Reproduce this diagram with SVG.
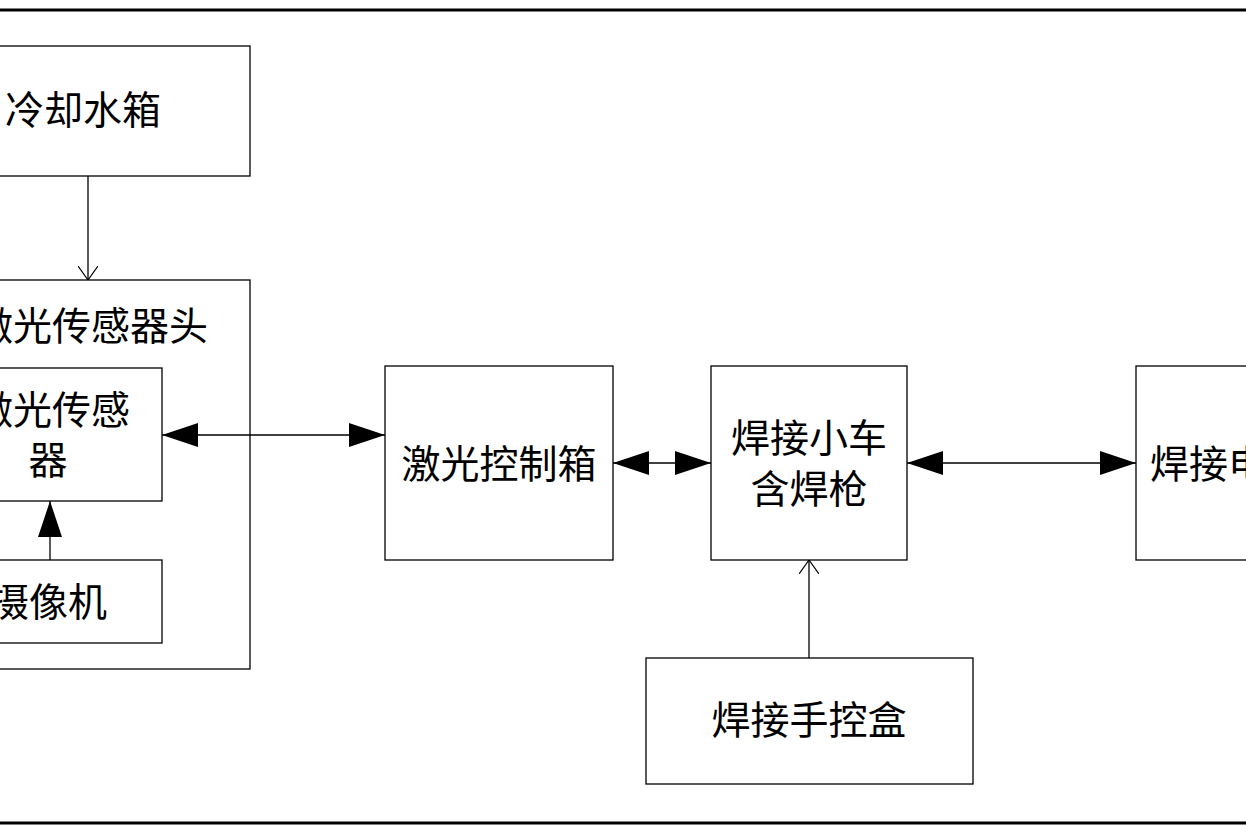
<svg xmlns="http://www.w3.org/2000/svg" width="1246" height="831" viewBox="0 0 1246 831">
<style>
.b{fill:none;stroke:#000;stroke-width:1.3}
.t{font-family:"Noto Sans CJK SC","Liberation Serif",serif;font-size:39px;fill:#000}
.c{stroke:#000;stroke-width:1.3;fill:none}
</style>
<defs>
<marker id="f" viewBox="0 0 36 24" refX="36" refY="12" markerWidth="36" markerHeight="24" markerUnits="userSpaceOnUse" orient="auto-start-reverse"><path d="M0,0L36,12L0,24Z" fill="#000"/></marker>
<marker id="o" viewBox="0 0 14 20" refX="14" refY="10" markerWidth="14" markerHeight="20" markerUnits="userSpaceOnUse" orient="auto"><path d="M0,0L14,10L0,20" fill="none" stroke="#000" stroke-width="1.2"/></marker>
</defs>
<rect width="1246" height="831" fill="#fff"/>
<line x1="0" y1="10" x2="1246" y2="10" stroke="#000" stroke-width="3"/>
<line x1="0" y1="823" x2="1246" y2="823" stroke="#000" stroke-width="3"/>
<g id="water"><rect class="b" x="-10" y="46" width="260" height="130"/><text class="t" x="5" y="124">冷却水箱</text></g>
<g id="head"><rect class="b" x="-10" y="280" width="260" height="389"/><text class="t" x="-26" y="340">激光传感器头</text></g>
<g id="sensor"><rect class="b" x="-10" y="368" width="172" height="133"/><text class="t" text-anchor="middle" x="52" y="424">激光传感</text><text class="t" text-anchor="middle" x="48" y="474">器</text></g>
<g id="camera"><rect class="b" x="-10" y="560" width="172" height="83"/><text class="t" x="-10" y="616">摄像机</text></g>
<g id="ctrl"><rect class="b" x="385" y="366" width="228" height="194"/><text class="t" text-anchor="middle" x="499" y="478">激光控制箱</text></g>
<g id="cart"><rect class="b" x="711" y="366" width="196" height="194"/><text class="t" text-anchor="middle" x="809" y="452">焊接小车</text><text class="t" text-anchor="middle" x="809" y="503">含焊枪</text></g>
<g id="power"><rect class="b" x="1136" y="366" width="130" height="194"/><text class="t" x="1150" y="478">焊接电源</text></g>
<g id="pendant"><rect class="b" x="646" y="658" width="327" height="126"/><text class="t" text-anchor="middle" x="809" y="734">焊接手控盒</text></g>
<g id="connectors">
<line class="c" x1="88" y1="176" x2="88" y2="280" marker-end="url(#o)"/>
<line class="c" x1="50" y1="560" x2="50" y2="501" marker-end="url(#f)"/>
<line class="c" x1="162" y1="435" x2="385" y2="435" marker-start="url(#f)" marker-end="url(#f)"/>
<line class="c" x1="613" y1="463" x2="711" y2="463" marker-start="url(#f)" marker-end="url(#f)"/>
<line class="c" x1="907" y1="463" x2="1136" y2="463" marker-start="url(#f)" marker-end="url(#f)"/>
<line class="c" x1="809" y1="658" x2="809" y2="560" marker-end="url(#o)"/>
</g>
</svg>
